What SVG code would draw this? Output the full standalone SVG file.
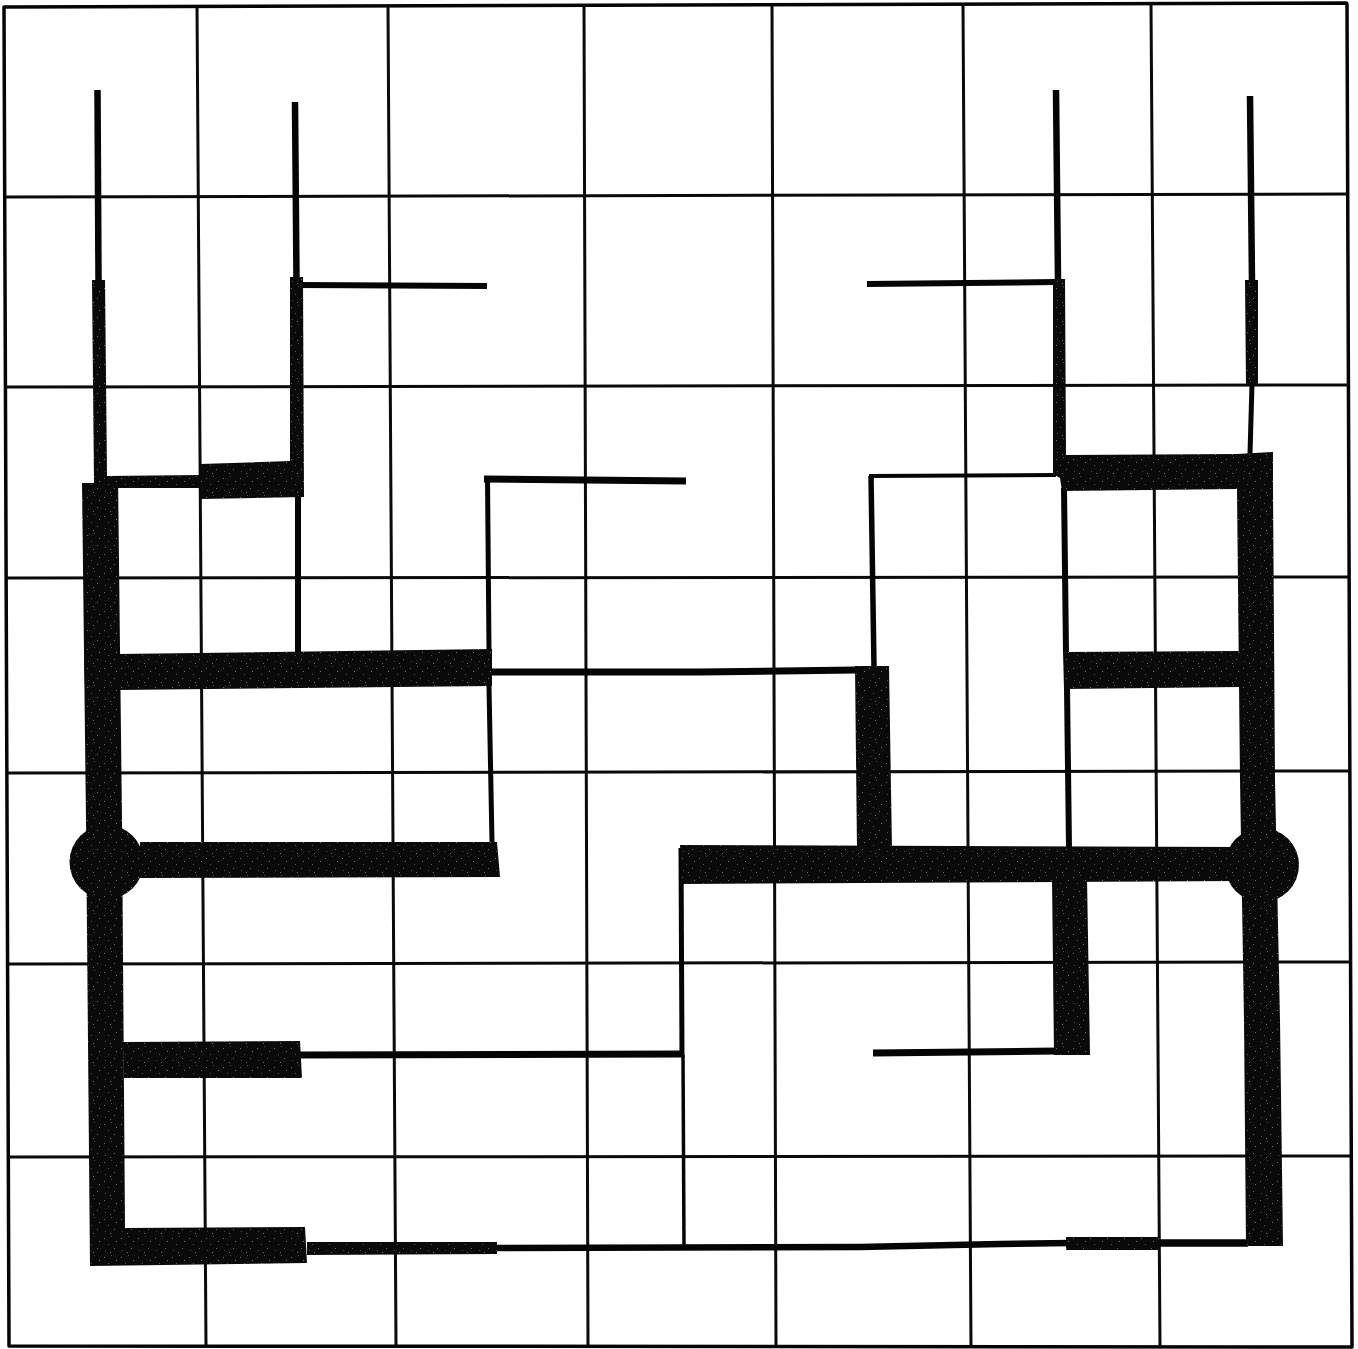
<svg xmlns="http://www.w3.org/2000/svg" width="1358" height="1349" viewBox="0 0 1358 1349">
<style>
.g{stroke:#0a0a0a;stroke-width:3;fill:none}
.f{stroke:#050505;stroke-width:3.5;fill:none;stroke-linejoin:round}
.t{stroke:#050505;fill:none;stroke-linecap:butt;stroke-linejoin:miter}
.k{fill:url(#speckle)}
</style>
<defs>
<pattern id="speckle" width="17" height="19" patternUnits="userSpaceOnUse">
<rect width="17" height="19" fill="#0a0a0a"/>
<rect x="2" y="3" width="1" height="1" fill="#6e6e6e"/>
<rect x="9" y="1" width="1" height="1" fill="#4a4a4a"/>
<rect x="14" y="6" width="1" height="1" fill="#777777"/>
<rect x="6" y="9" width="1" height="1" fill="#555555"/>
<rect x="12" y="13" width="1" height="1" fill="#6a6a6a"/>
<rect x="3" y="15" width="1" height="1" fill="#4a4a4a"/>
<rect x="8" y="17" width="1" height="1" fill="#707070"/>
</pattern>
</defs>
<rect width="1358" height="1349" fill="#ffffff"/>
<g id="grid">
<path class="f" d="M4 7L1346 3Q1347 3 1347 5L1352 1347L9 1346Z"/>
<path class="g" d="M197 6L206 1346M388 6L396 1346M584 5L588 1346M772 5L776 1346M963 4L971 1347M1151 3L1160 1347"/>
<path class="g" d="M5 197L1348 194M5 387L1349 385M6 578L1349 577M6 773L1350 771M7 964L1350 962M8 1157L1351 1156"/>
</g>
<g id="thin-lines">
<path class="t" stroke-width="6.5" d="M97.5 90L98.5 280"/>
<path class="t" stroke-width="6.5" d="M295 102L296.5 280"/>
<path class="t" stroke-width="6" d="M298 497L298 652"/>
<path class="t" stroke-width="6" d="M300 285L487 286"/>
<path class="t" stroke-width="7" d="M484 479L686 481"/>
<path class="t" stroke-width="5" d="M487.5 477L489 650"/>
<path class="t" stroke-width="5" d="M489 686L492 842"/>
<path class="t" stroke-width="7" d="M492 672L700 672L856 670"/>
<path class="t" stroke-width="4" d="M869 476L1056 475"/>
<path class="t" stroke-width="5.5" d="M871 476L874 667"/>
<path class="t" stroke-width="6" d="M867 284L1056 282"/>
<path class="t" stroke-width="6.5" d="M1056 90L1058 280"/>
<path class="t" stroke-width="6" d="M1064 488L1066 652"/>
<path class="t" stroke-width="6" d="M1067 688L1069 848"/>
<path class="t" stroke-width="6.5" d="M1250 96L1252 282"/>
<path class="t" stroke-width="5" d="M1252 384L1250 454"/>
<path class="t" stroke-width="7" d="M300 1055L683 1054"/>
<path class="t" stroke-width="5" d="M681 848L682 1057"/>
<path class="t" stroke-width="3.5" d="M683 1055L684 1247"/>
<path class="t" stroke-width="6.5" d="M495 1248L860 1247L1000 1244L1070 1243"/>
<path class="t" stroke-width="7.5" d="M1158 1243L1248 1243"/>
<path class="t" stroke-width="7" d="M873 1053L1056 1051"/>
</g>
<g id="thick-bars">
<polygon class="k" points="92,280 105,280 107,476 118,476 122,820 125,1228 305,1227 307,1263 90,1266 86,820 82,483 94,483"/>
<circle class="k" cx="106.5" cy="862" r="37"/>
<polygon class="k" points="84,655 118,654 492,649 492,686 118,690 85,688"/>
<polygon class="k" points="107,476 200,475 200,464 290,461 290,277 303,277 304,497 201,499 200,488 107,488"/>
<polygon class="k" points="140,842 497,842 500,877 140,878"/>
<polygon class="k" points="123,1042 300,1041 302,1078 124,1078"/>
<polygon class="k" points="307,1242 497,1242 497,1254 307,1255"/>
<polygon class="k" points="855,666 889,666 892,850 857,850"/>
<polygon class="k" points="680,845 1240,847 1240,881 682,884"/>
<circle class="k" cx="1262" cy="865" r="37"/>
<polygon class="k" points="1052,878 1087,878 1090,1055 1054,1055"/>
<polygon class="k" points="1053,279 1065,279 1066,455 1237,454 1273,452 1273,488 1275,780 1280,1020 1283,1246 1246,1246 1244,1020 1240,780 1237,489 1062,491 1060,478 1053,474"/>
<polygon class="k" points="1063,652 1240,651 1240,687 1064,689"/>
<polygon class="k" points="1066,1237 1160,1237 1160,1250 1066,1250"/>
<polygon class="k" points="1245,280 1258,280 1258,385 1246,385"/>
</g>
</svg>
